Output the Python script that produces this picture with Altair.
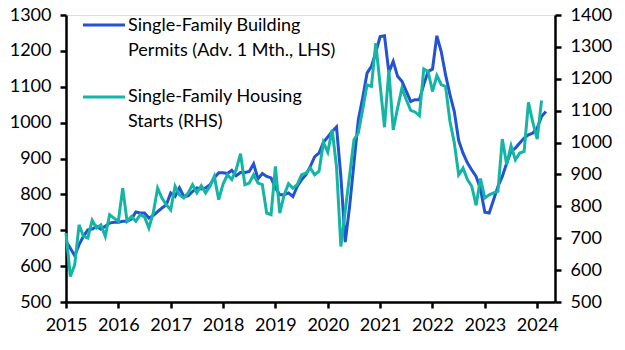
import altair as alt
import pandas as pd

# Single-family building permits (advanced 1 month, LHS), monthly from Jan 2015 to Mar 2024
permits = [
    669, 650, 629, 660, 683, 701, 703, 711, 703, 711, 720, 722,
    722, 725, 725, 731, 751, 748, 748, 734, 741, 752, 762, 771,
    804, 794, 818, 794, 796, 808, 818, 815, 818, 827, 846, 860,
    860, 858, 867, 852, 861, 861, 864, 885, 843, 858, 850, 846,
    818, 799, 799, 804, 794, 822, 841, 855, 878, 905, 915, 945,
    960, 975, 988, 850, 667, 766, 887, 1008, 1069, 1138, 1157, 1195,
    1240, 1242, 1140, 1171, 1129, 1115, 1087, 1059, 1064, 1064, 1106, 1143,
    1149, 1242, 1198, 1133, 1078, 1031, 950, 915, 888, 868, 850, 815,
    750, 748, 785, 822, 850, 887, 920, 929, 943, 957, 966, 971,
    985, 1017, 1031,
]
# Single-family housing starts (RHS), monthly from Jan 2015 to Feb 2024
starts = [
    716, 580, 617, 742, 706, 701, 756, 732, 742, 706, 774, 763,
    753, 857, 753, 768, 753, 774, 767, 732, 779, 857, 826, 805,
    789, 863, 836, 826, 842, 868, 842, 865, 842, 863, 894, 821,
    870, 899, 884, 915, 965, 868, 873, 899, 873, 868, 779, 774,
    925, 779, 836, 871, 857, 868, 899, 904, 920, 899, 910, 1000,
    970, 1040, 925, 674, 786, 897, 1009, 1030, 1103, 1181, 1176, 1312,
    1180, 1048, 1228, 1040, 1108, 1171, 1134, 1101, 1096, 1084, 1231, 1223,
    1160, 1210, 1182, 1176, 1067, 999, 899, 920, 884, 863, 803, 887,
    826, 836, 842, 847, 1011, 931, 990, 946, 967, 972, 1126, 1063,
    1011, 1132,
]
start_year = 2015
year_ticks = list(range(2015, 2025))
left_ticks = list(range(500, 1301, 100))
right_ticks = list(range(500, 1401, 100))
legend_permits = ["Single-Family Building", "Permits (Adv. 1 Mth., LHS)"]
legend_starts = ["Single-Family Housing", "Starts (RHS)"]

BLUE = "#2353d3"
TEAL = "#14b5a5"
FONT = "Lato"
FS = 18


def frac_years(n):
    return [start_year + i // 12 + (i % 12) / 12 for i in range(n)]


df_p = pd.DataFrame({"t": frac_years(len(permits)), "v": permits})
df_s = pd.DataFrame({"t": frac_years(len(starts)), "v": starts})

xscale = alt.Scale(domain=[2015, 2024.34], nice=False, zero=False)
xaxis = alt.Axis(values=year_ticks, format="d", title=None, grid=False,
                 domainColor="black", domainWidth=2.5, tickColor="black",
                 tickWidth=2.5, tickSize=6, labelFontSize=FS, labelFont=FONT,
                 labelColor="black", labelPadding=8, labelFlush=False)


def yaxis(ticks, orient):
    return alt.Axis(values=ticks, orient=orient, format="d", title=None, grid=False,
                    domainColor="black", domainWidth=2.5, tickColor="black",
                    tickWidth=2.5, tickSize=6, labelFontSize=FS, labelFont=FONT,
                    labelColor="black", labelPadding=9)


line_p = alt.Chart(df_p).mark_line(color=BLUE, strokeWidth=3).encode(
    x=alt.X("t:Q", scale=xscale, axis=xaxis),
    y=alt.Y("v:Q", scale=alt.Scale(domain=[500, 1300], nice=False, zero=False),
            axis=yaxis(left_ticks, "left")),
)

line_s = alt.Chart(df_s).mark_line(color=TEAL, strokeWidth=3).encode(
    x=alt.X("t:Q", scale=xscale, axis=xaxis),
    y=alt.Y("v:Q", scale=alt.Scale(domain=[500, 1400], nice=False, zero=False),
            axis=yaxis(right_ticks, "right")),
)

base = alt.Chart(pd.DataFrame({"a": [0]}))


def leg_line(color, y):
    return base.mark_rule(color=color, strokeWidth=3).encode(
        x=alt.value(17), x2=alt.value(59), y=alt.value(y))


def leg_text(txt, y):
    return base.mark_text(align="left", baseline="middle", font=FONT,
                          fontSize=FS, color="black").encode(
        x=alt.value(62), y=alt.value(y), text=alt.value(txt))


legend = alt.layer(
    leg_line(BLUE, 10),
    leg_text(legend_permits[0], 11),
    leg_text(legend_permits[1], 36),
    leg_line(TEAL, 82),
    leg_text(legend_starts[0], 82),
    leg_text(legend_starts[1], 107),
)

chart = alt.layer(line_p, line_s).resolve_scale(y="independent")
chart = alt.layer(chart, legend).properties(
    width=489, height=287,
    autosize=alt.AutoSizeParams(type="none"),
    padding={"left": 66, "top": 15, "right": 70, "bottom": 48},
).configure_view(stroke=None).configure(background="white")

chart.save("out.html", embed_options={"renderer": "svg", "actions": False})
